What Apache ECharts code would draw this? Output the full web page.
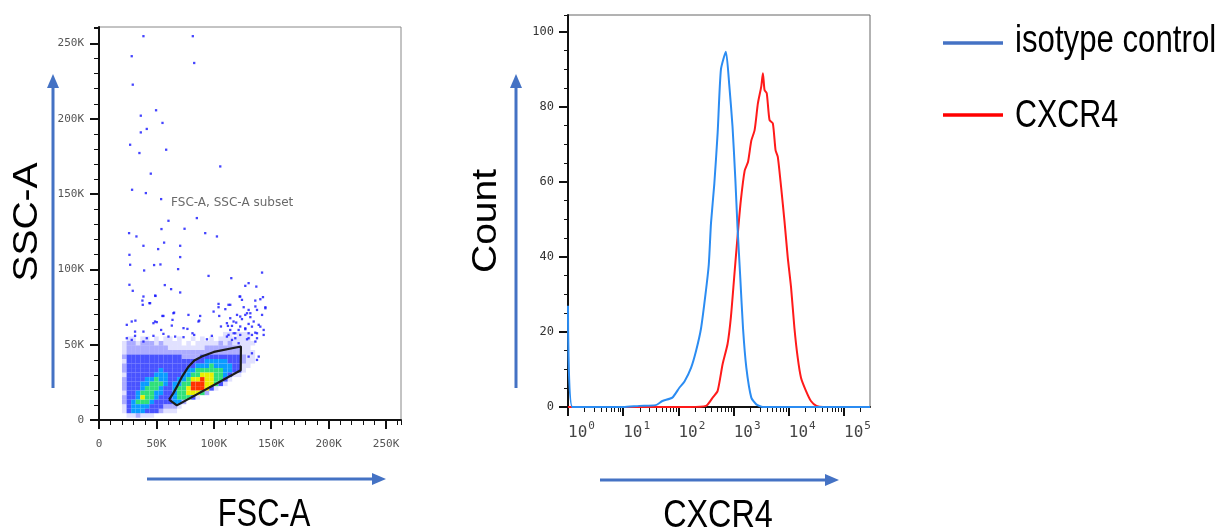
<!DOCTYPE html>
<html>
<head>
<meta charset="utf-8">
<title>CXCR4 flow cytometry</title>
<script src="https://cdn.jsdelivr.net/npm/echarts@6/dist/echarts.min.js"></script>
<style>
  html, body { margin: 0; padding: 0; background: #fff; }
  #main { width: 1220px; height: 530px; }
</style>
</head>
<body>
<div id="main"></div>
<script>
// ---------- FSC-A / SSC-A dot plot (all values in K) ----------
var fscTicks = [0, 50, 100, 150, 200, 250];
var sscTicks = [0, 50, 100, 150, 200, 250];

// density: one string per SSC row (top row first),
// one char per FSC column, 0 = empty ... 7 = red core
var densityFirstFsc = 22, densityFscStep = 4, densityTopSsc = 57, densitySscStep = 3;
var densityRows = [
  '00000000000000000000001101110', // 57
  '01101101011010010101011111110', // 54
  '12212221211110101111121211111', // 51
  '12222222221111111122222222110', // 48
  '12222222222222222222222222111', // 45
  '23333333333332222333333333211', // 42
  '13333333333333333344444333211', // 39
  '23333333333333334445444433110', // 36
  '23333333433333445555554433100', // 33
  '13333334443334455666554311000', // 30
  '23333445443344566766553100000', // 27
  '23334455543445577766531000000', // 24
  '23334555433455677763100000000', // 21
  '13345554433455666520000000000', // 18
  '23346554333455531000000000000', // 15
  '23455543333442000000000000000', // 12
  '13444433322210000000000000000', // 9
  '13444333211100000000000000000', // 6
  '01121110000000000000000000000'  // 3
];

// single events outside the dense populations
var sparseEvents = [
  [38.7,254.9],[81.7,254.9],[28.5,241.6],[82.9,237.1],[29.4,222.7],[49.7,205.7],[36.4,202.1],
  [55.3,197.3],[41.6,193.3],[36.4,191.0],[27.1,182.8],[58.5,179.5],[35.2,177.3],[105.6,168.4],
  [45.1,163.6],[28.8,152.9],[40.8,150.7],[54.1,146.7],[85.2,134.1],[60.5,132.3],[54.4,126.8],
  [26.2,124.1],[32.6,121.9],[74.5,127.0],[92.5,124.1],[102.7,121.9],[38.7,115.7],[70.7,115.7],
  [51.5,113.5],[56.7,117.8],[26.5,109.7],[70.7,108.2],[48.0,102.9],[53.5,103.3],[27.1,103.1],
  [39.3,99.3],[68.9,100.2],[95.4,95.7],[115.2,94.2],[26.5,89.8],[57.3,89.6],[62.8,86.9],
  [29.4,85.8],[70.7,84.7],[38.7,82.0],[49.2,82.4],[142.0,97.9],[130.3,90.9],[137.0,88.6],
  [127.4,89.1],[44.5,77.6],[38.1,76.5],
  [123.0,82.0],[124.5,79.8],[114.3,76.5],[104.1,77.1],[104.1,74.9],[140.5,80.2],[142.8,81.6],
  [144.9,74.9],[136.2,75.4],[126.0,74.9],[130.3,73.1],[137.6,73.1],[131.8,70.9],[127.4,69.8],
  [123.0,68.7],[114.3,67.6],[117.2,65.4],[134.7,65.4],[139.1,63.2],[130.3,63.8],[123.0,62.1],
  [127.4,60.9],[114.3,59.8],[118.7,57.6],[133.2,56.5],[143.4,59.8],[137.6,57.6],[128.9,53.6],
  [136.2,52.1],[121.6,51.0],[115.8,53.2],[111.4,55.4],[106.2,62.1],[130.3,42.1],[139.1,42.1],
  [137.6,39.9],[133.2,44.3],[99.8,72.0],[88.1,69.1],[86.6,65.4],[77.9,69.8],[64.8,70.9],
  [56.1,69.1],[48.8,65.4],[31.4,58.7],[24.2,63.2],[28.5,53.2],[38.7,52.1],[24.2,54.3],
  [37.8,79.3],[43.9,77.6],[48.9,82.6],[28.5,65.4],[31.7,66.0],[38.7,58.7],[47.4,64.3],
  [50.3,65.0],[55.2,69.1],[64.0,66.5],[65.4,71.3],[87.3,66.0],[56.1,57.2],[63.4,62.7],
  [77.0,60.5],[82.9,56.5],[60.5,55.4],[66.3,55.4],[73.6,55.0],[98.3,55.9],[104.7,69.1],
  [110.0,73.6],[112.8,76.5],[122.4,82.0],[128.9,70.9],[136.1,79.3],[144.9,74.2],[142.0,69.8],
  [120.2,69.8],[111.4,64.3],[115.8,62.5],[119.5,64.7],[124.5,67.0],[131.8,68.3],[140.5,62.0],
  [133.2,62.0],[127.4,60.3],[121.6,59.8],[117.2,57.6],[123.0,56.5],[130.3,57.6],[136.1,58.0],
  [143.4,56.5],[137.6,54.3],[130.3,54.3],[118.7,54.3],[112.8,56.5],[112.3,62.5],[54.1,59.8],
  [47.4,55.9],[41.6,54.3],[31.4,55.9],[73.6,61.0],[81.4,57.6],[94.0,53.6]
];

var gateVertices = [
  [61,13.5],[67.8,9.7],[123.4,33],[123.6,48.8],[100,45.2],[90,42.3],[83,39.5],
  [77.5,35],[72.5,29],[68.5,23],[64.5,17.5],[61,13.5]
];
var gateName = 'FSC-A, SSC-A subset';
var gateLabelAt = [62.8, 144.3];

// ---------- CXCR4 histogram ----------
var decadeTicks = [1, 10, 100, 1000, 10000, 100000];
var countTicks = [0, 20, 40, 60, 80, 100];
var isotypeControl = [
  [1,27],[1.2,0],[10,0],[19.5,0.3],[38.9,0.5],[51.3,1.6],[77.6,2.5],[104.7,5.2],[128.8,6.8],
  [169.8,10.5],[208.9,15],[257,21],[309,30],[354.8,38],[389,49],[446.7,59.5],[512.9,73],
  [588.8,90],[724.4,94.7],[831.8,86],[955,74.7],[1071.5,61],[1174.9,48],[1318,34.6],
  [1479,21],[1698,10.5],[2089,2.5],[2570,0.7],[3388,0],[295000,0]
];
var cxcr4 = [
  [1,0],[158,0],[316,0.3],[417,2.5],[513,4.3],[631,11.4],[776,16.8],[891,23.9],[1023,34.6],
  [1175,45.3],[1349,55],[1585,63],[1820,65.3],[2089,71],[2399,73.8],[2754,81],[3162,85.4],
  [3388,89],[3631,84.5],[3981,83.6],[4467,76.5],[5129,75.6],[5754,68.4],[6310,66.7],
  [7244,58.6],[8318,49.7],[9550,39.9],[10965,31.9],[12589,21.2],[14454,13.2],[16596,7.8],
  [20417,4.3],[25119,1.6],[31623,0.3],[41687,0],[295000,0]
];

// ---------- build ----------
var levelColors = ['', 'rgba(25,25,255,0.13)', 'rgba(25,25,255,0.36)', 'rgba(22,34,255,0.78)',
                   '#0a9cff', '#2fe07a', '#e8ef00', '#ff3300'];
var densityCells = [];
densityRows.forEach(function (row, r) {
  for (var c = 0; c < row.length; c++) {
    var level = +row[c];
    if (level > 0) {
      densityCells.push([densityFirstFsc + c * densityFscStep, densityTopSsc - r * densitySscStep, level]);
    }
  }
});

var histMax = 295000;
var minorLogTicks = [];
decadeTicks.forEach(function (d) {
  [2, 3, 4, 5, 6, 7, 8, 9].forEach(function (m) {
    if (d * m < histMax) minorLogTicks.push(d * m);
  });
});

var ink = '#111';
var kLabel = function (v) { return v === 0 ? '0' : v + 'K'; };
var monoFont = 'DejaVu Sans Mono';

function majorAxis(extra) {
  return Object.assign({
    type: 'value',
    axisLine: { show: true, onZero: false, lineStyle: { color: ink, width: 2 } },
    axisTick: { show: true, length: 9, lineStyle: { color: ink, width: 2 } },
    splitLine: { show: false }
  }, extra);
}
function minorAxis(extra) {
  return Object.assign({
    type: 'value',
    axisLine: { show: false },
    axisTick: { show: true, length: 5, lineStyle: { color: ink, width: 1 } },
    axisLabel: { show: false },
    splitLine: { show: false }
  }, extra);
}

var blue = '#4472c4';
function arrow(x1, y1, x2, y2, head) {
  return [
    { type: 'line', shape: { x1: x1, y1: y1, x2: x2, y2: y2 }, style: { stroke: blue, lineWidth: 3 } },
    { type: 'polygon', shape: { points: head }, style: { fill: blue } }
  ];
}
function title(text, x, y, rotated, scale) {
  return {
    type: 'text', x: x, y: y,
    rotation: rotated ? Math.PI / 2 : 0,
    scaleX: rotated ? 1 : scale, scaleY: rotated ? scale : 1,
    style: { text: text, font: '39px "Liberation Sans", Arial, sans-serif', fill: '#000',
             align: rotated ? 'center' : (x > 1000 ? 'left' : 'center'), verticalAlign: 'middle' }
  };
}

var chart = echarts.init(document.getElementById('main'));
chart.setOption({
  animation: false,
  grid: [
    { left: 99, top: 27, width: 302, height: 393, show: true, borderColor: '#888', borderWidth: 1 },
    { left: 568, top: 15, width: 302, height: 392, show: true, borderColor: '#666', borderWidth: 1 }
  ],
  xAxis: [
    majorAxis({ gridIndex: 0, min: 0, max: 263, position: 'bottom',
      axisTick: { show: true, customValues: fscTicks, length: 9, lineStyle: { color: ink, width: 2 } },
      axisLabel: { customValues: fscTicks, formatter: kLabel, fontFamily: monoFont, fontSize: 11, color: '#555', margin: 19 } }),
    minorAxis({ gridIndex: 0, min: 0, max: 263, interval: 10, position: 'bottom' }),
    majorAxis({ gridIndex: 1, type: 'log', logBase: 10, min: 1, max: histMax, position: 'bottom',
      axisTick: { show: true, customValues: decadeTicks, length: 9, lineStyle: { color: ink, width: 2 } },
      axisLabel: {
        customValues: decadeTicks, align: 'left', margin: 14,
        formatter: function (v) { return '{b|10}{s|' + Math.round(Math.log10(v)) + '}'; },
        rich: {
          b: { fontFamily: monoFont, fontSize: 16, color: '#444', verticalAlign: 'bottom' },
          s: { fontFamily: monoFont, fontSize: 11, color: '#444', verticalAlign: 'top', padding: [0, 0, 9, 1] }
        }
      } }),
    minorAxis({ gridIndex: 1, type: 'log', logBase: 10, min: 1, max: histMax, position: 'bottom',
      axisTick: { show: true, customValues: minorLogTicks, length: 5, lineStyle: { color: ink, width: 1 } } })
  ],
  yAxis: [
    majorAxis({ gridIndex: 0, min: 0, max: 261, position: 'left',
      axisTick: { show: true, customValues: sscTicks, length: 9, lineStyle: { color: ink, width: 2 } },
      axisLabel: { customValues: sscTicks, formatter: kLabel, fontFamily: monoFont, fontSize: 11, color: '#555', margin: 15 } }),
    minorAxis({ gridIndex: 0, min: 0, max: 261, interval: 10, position: 'left' }),
    majorAxis({ gridIndex: 1, min: 0, max: 104.5, position: 'left',
      axisTick: { show: true, customValues: countTicks, length: 9, lineStyle: { color: ink, width: 2 } },
      axisLabel: { customValues: countTicks, fontFamily: monoFont, fontSize: 12, color: '#333', margin: 14 } }),
    minorAxis({ gridIndex: 1, min: 0, max: 104.5, interval: 5, position: 'left',
      axisTick: { show: true, length: 4, lineStyle: { color: ink, width: 1 } } })
  ],
  series: [
    {
      type: 'custom', xAxisIndex: 0, yAxisIndex: 0, data: densityCells,
      encode: { x: 0, y: 1 },
      renderItem: function (params, api) {
        var p = api.coord([api.value(0) - densityFscStep / 2, api.value(1) + densitySscStep / 2]);
        var s = api.size([densityFscStep, densitySscStep]);
        return { type: 'rect', shape: { x: p[0], y: p[1], width: s[0], height: s[1] },
                 style: { fill: levelColors[api.value(2)] } };
      }
    },
    {
      type: 'scatter', xAxisIndex: 0, yAxisIndex: 0, data: sparseEvents,
      symbol: 'rect', symbolSize: 2.3, itemStyle: { color: '#1515ff' }
    },
    {
      type: 'line', xAxisIndex: 0, yAxisIndex: 0, data: gateVertices,
      showSymbol: false, lineStyle: { color: '#1c1c1c', width: 2.2 }
    },
    {
      type: 'scatter', xAxisIndex: 0, yAxisIndex: 0, data: [gateLabelAt], symbolSize: 0,
      label: { show: true, position: 'right', distance: 0, formatter: gateName,
               fontFamily: 'DejaVu Sans', fontSize: 12, color: '#444' }
    },
    {
      name: 'CXCR4', type: 'line', xAxisIndex: 2, yAxisIndex: 2, data: cxcr4,
      showSymbol: false, smooth: 0.2, lineStyle: { color: '#ff1a1a', width: 2 }
    },
    {
      name: 'isotype control', type: 'line', xAxisIndex: 2, yAxisIndex: 2, data: isotypeControl,
      showSymbol: false, smooth: 0.2, lineStyle: { color: '#2b8cf2', width: 2 }
    }
  ],
  graphic: [].concat(
    arrow(53, 388, 53, 86, [[53, 74], [47, 88], [59, 88]]),
    arrow(147, 479, 374, 479, [[386, 479], [372, 473], [372, 485]]),
    arrow(516, 388, 516, 86, [[516, 74], [510, 88], [522, 88]]),
    arrow(600, 480, 827, 480, [[839, 480], [825, 474], [825, 486]]),
    [
      title('SSC-A', 27.5, 222, true, 0.9),
      title('FSC-A', 264, 515, false, 0.79),
      title('Count', 486.5, 221, true, 0.9),
      title('CXCR4', 718, 516, false, 0.83),
      { type: 'line', shape: { x1: 943, y1: 43, x2: 1003, y2: 43 }, style: { stroke: blue, lineWidth: 3.5 } },
      { type: 'line', shape: { x1: 943, y1: 115, x2: 1003, y2: 115 }, style: { stroke: '#ff0000', lineWidth: 3.5 } },
      title('isotype control', 1015, 41, false, 0.8),
      title('CXCR4', 1015, 116, false, 0.78)
    ]
  )
});
</script>
</body>
</html>
